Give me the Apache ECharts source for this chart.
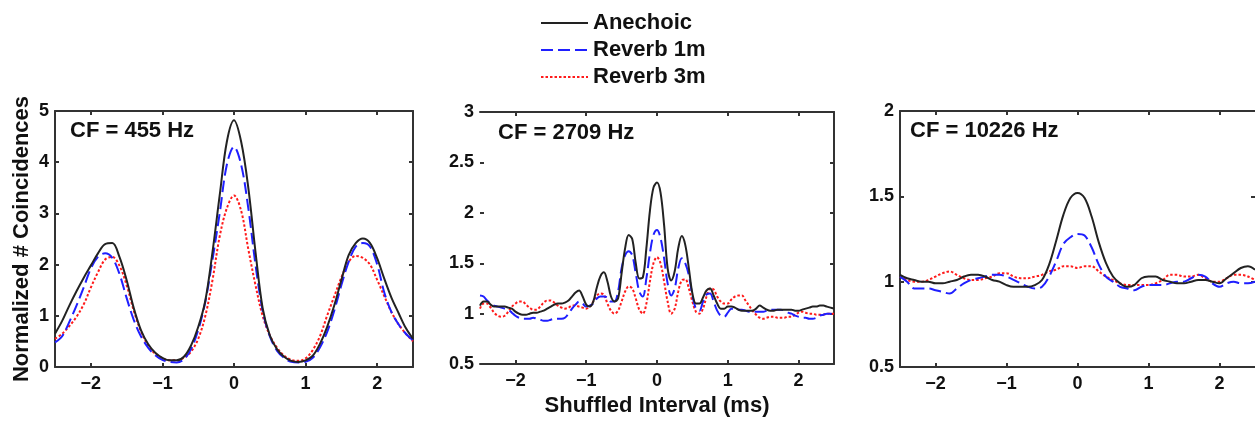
<!DOCTYPE html>
<html>
<head>
<meta charset="utf-8">
<script src="https://cdn.jsdelivr.net/npm/echarts@6/dist/echarts.min.js"></script>
<style>
html,body{margin:0;padding:0;background:#fff;}
#chart{width:1255px;height:422px;}
</style>
</head>
<body>
<div id="chart"></div>
<script>
// ---------- DATA ----------
const seriesNames = ['Anechoic', 'Reverb 1m', 'Reverb 3m'];
const cfLabels = ['CF = 455 Hz', 'CF = 2709 Hz', 'CF = 10226 Hz'];
const xTickValues = [-2, -1, 0, 1, 2];
const yRange1 = [0, 5, 1];
const yRange2 = [0.5, 3, 0.5];
const yRange3 = [0.5, 2, 0.5];
const xLabel = 'Shuffled Interval (ms)';
const yLabel = 'Normalized # Coincidences';

// Panel 1 (CF = 455 Hz)
const xs1 = [-2.5,-2.4,-2.3,-2.2,-2.1,-2.0,-1.9,-1.8,-1.7,-1.6,-1.5,-1.4,-1.3,-1.2,-1.1,-1.0,-0.9,-0.8,-0.7,-0.6,-0.5,-0.4,-0.3,-0.2,-0.1,0,
  0.1,0.2,0.3,0.4,0.5,0.6,0.7,0.8,0.9,1.0,1.1,1.2,1.3,1.4,1.5,1.6,1.7,1.8,1.9,2.0,2.1,2.2,2.3,2.4,2.5];
const p1Anechoic = [0.65,0.9,1.2,1.48,1.74,1.98,2.22,2.4,2.42,2.15,1.7,1.15,0.72,0.45,0.28,0.18,0.13,0.13,0.2,0.42,0.78,1.3,2.25,3.35,4.4,4.82,
  4.4,3.5,2.25,1.15,0.62,0.35,0.2,0.12,0.1,0.13,0.22,0.45,0.78,1.2,1.7,2.18,2.42,2.51,2.42,2.12,1.72,1.35,1.05,0.76,0.55];
const p1Reverb1 = [0.48,0.6,0.88,1.2,1.55,1.92,2.15,2.22,2.13,1.82,1.35,0.92,0.6,0.38,0.23,0.14,0.1,0.09,0.15,0.35,0.72,1.28,2.1,3.0,3.95,4.3,
  3.95,3.1,2.0,1.1,0.6,0.32,0.18,0.1,0.09,0.1,0.18,0.38,0.68,1.1,1.6,2.05,2.35,2.42,2.35,2.0,1.45,1.07,0.83,0.65,0.52];
const p1Reverb3 = [0.55,0.65,0.8,0.98,1.22,1.55,1.85,2.1,2.15,1.98,1.6,1.1,0.7,0.42,0.26,0.17,0.13,0.13,0.18,0.3,0.55,1.0,1.7,2.55,3.1,3.35,
  3.05,2.3,1.6,1.0,0.62,0.38,0.22,0.14,0.12,0.17,0.33,0.6,1.0,1.38,1.75,2.05,2.17,2.13,2.0,1.7,1.38,1.07,0.83,0.65,0.5];

// Panel 2 (CF = 2709 Hz)
const xs2 = [-2.5,-2.45,-2.4,-2.35,-2.3,-2.25,-2.2,-2.15,-2.1,-2.05,-2.0,-1.95,-1.9,-1.85,-1.8,-1.75,-1.7,-1.65,-1.6,-1.55,
  -1.5,-1.45,-1.4,-1.35,-1.3,-1.25,-1.2,-1.15,-1.1,-1.05,-1.0,-0.95,-0.9,-0.85,-0.8,-0.75,-0.7,-0.65,-0.6,-0.55,
  -0.5,-0.45,-0.4,-0.35,-0.3,-0.25,-0.2,-0.15,-0.1,-0.05,0,0.05,0.1,0.15,0.2,0.25,0.3,0.35,0.4,0.45,
  0.5,0.55,0.6,0.65,0.7,0.75,0.8,0.85,0.9,0.95,1.0,1.05,1.1,1.15,1.2,1.25,1.3,1.35,1.4,1.45,
  1.5,1.55,1.6,1.65,1.7,1.75,1.8,1.85,1.9,1.95,2.0,2.05,2.1,2.15,2.2,2.25,2.3,2.35,2.4,2.45,2.5];
const p2Anechoic = [1.08,1.12,1.12,1.09,1.07,1.07,1.07,1.07,1.06,1.05,1.02,1.0,0.99,0.99,1.0,1.01,1.01,1.02,1.03,1.05,
  1.07,1.09,1.1,1.1,1.11,1.13,1.17,1.21,1.23,1.17,1.09,1.07,1.12,1.26,1.37,1.41,1.32,1.17,1.12,1.15,
  1.4,1.65,1.78,1.74,1.5,1.35,1.36,1.65,2.02,2.25,2.3,2.2,1.88,1.45,1.33,1.42,1.65,1.77,1.68,1.45,
  1.2,1.1,1.1,1.16,1.23,1.25,1.18,1.1,1.05,1.05,1.07,1.07,1.06,1.04,1.03,1.03,1.03,1.03,1.05,1.08,
  1.06,1.04,1.03,1.03,1.04,1.04,1.04,1.04,1.04,1.03,1.03,1.04,1.05,1.06,1.07,1.07,1.08,1.08,1.07,1.06,1.05];
const p2Reverb1 = [1.18,1.17,1.13,1.1,1.08,1.07,1.06,1.05,1.04,1.01,0.98,0.96,0.95,0.95,0.95,0.96,0.95,0.94,0.93,0.93,
  0.94,0.95,0.95,0.95,0.96,1.0,1.05,1.09,1.12,1.1,1.07,1.08,1.1,1.15,1.17,1.17,1.16,1.12,1.12,1.22,
  1.45,1.58,1.62,1.58,1.4,1.22,1.17,1.35,1.6,1.78,1.83,1.75,1.55,1.3,1.18,1.25,1.45,1.55,1.5,1.38,
  1.18,1.05,1.03,1.12,1.19,1.2,1.12,1.03,0.98,0.97,1.01,1.05,1.05,1.04,1.04,1.03,1.02,1.02,1.02,1.02,
  1.02,1.03,1.04,1.04,1.04,1.04,1.03,1.01,1.0,0.98,0.97,0.96,0.96,0.95,0.95,0.96,0.98,0.99,1.0,1.0,1.0];
const p2Reverb3 = [1.05,1.1,1.1,1.06,1.01,0.98,0.97,0.98,1.02,1.07,1.1,1.12,1.12,1.09,1.06,1.04,1.04,1.07,1.11,1.13,
  1.13,1.11,1.08,1.06,1.05,1.06,1.08,1.08,1.07,1.06,1.05,1.07,1.12,1.18,1.2,1.19,1.1,1.03,1.0,1.03,
  1.12,1.22,1.27,1.25,1.15,1.04,1.0,1.1,1.32,1.5,1.56,1.5,1.32,1.12,1.0,1.05,1.22,1.33,1.34,1.25,
  1.12,1.02,1.0,1.05,1.17,1.25,1.24,1.17,1.12,1.1,1.1,1.14,1.17,1.18,1.18,1.13,1.08,1.03,0.99,0.96,
  0.95,0.96,0.97,0.97,0.96,0.96,0.96,0.97,0.97,0.99,1.01,1.02,1.01,1.0,1.0,0.99,0.99,0.99,1.0,1.0,1.0];

// Panel 3 (CF = 10226 Hz)
const xs3 = [-2.5,-2.4,-2.3,-2.2,-2.1,-2.0,-1.9,-1.8,-1.7,-1.6,-1.5,-1.4,-1.3,-1.2,-1.1,-1.0,-0.9,-0.8,-0.7,-0.6,-0.5,-0.4,-0.3,-0.2,-0.1,0,
  0.1,0.2,0.3,0.4,0.5,0.6,0.7,0.8,0.9,1.0,1.1,1.2,1.3,1.4,1.5,1.6,1.7,1.8,1.9,2.0,2.1,2.2,2.3,2.4,2.5];
const p3Anechoic = [1.04,1.02,1.01,1.0,1.0,0.99,0.99,1.0,1.01,1.03,1.04,1.04,1.03,1.01,1.0,0.98,0.97,0.97,0.97,0.98,1.01,1.1,1.24,1.39,1.49,1.52,
  1.49,1.38,1.23,1.11,1.03,0.99,0.97,0.98,1.02,1.03,1.03,1.01,1.0,0.99,0.99,1.0,1.01,1.01,1.0,0.99,1.02,1.05,1.08,1.09,1.07];
const p3Reverb1 = [1.03,1.0,0.96,0.96,0.96,0.95,0.94,0.93,0.96,0.99,1.01,1.02,1.03,1.04,1.04,1.03,1.01,0.99,0.97,0.96,0.97,1.03,1.12,1.22,1.26,1.28,
  1.27,1.2,1.1,1.03,1.0,0.97,0.96,0.95,0.97,0.98,0.98,0.98,0.99,1.0,1.0,1.02,1.04,1.03,0.99,0.97,0.99,1.0,0.99,0.99,1.0];
const p3Reverb3 = [1.03,1.01,1.0,1.0,1.01,1.03,1.05,1.06,1.04,1.02,1.01,1.01,1.02,1.03,1.05,1.05,1.03,1.02,1.02,1.03,1.04,1.06,1.07,1.09,1.09,1.08,
  1.09,1.09,1.06,1.03,1.01,0.99,0.98,0.98,0.98,0.98,0.99,1.01,1.04,1.04,1.03,1.03,1.04,1.02,1.0,1.0,1.02,1.04,1.04,1.03,1.01];

// ---------- CHART ----------
const FONT = '"Liberation Sans", Arial, Helvetica, sans-serif';
const AXC = '#333333';
const colors = ['#222222', '#1f1fff', '#ff1a1a'];
const dashes = ['solid', [12, 5], [2.5, 2]];

const grids = [
  {left: 55, top: 111, width: 358, height: 256},
  {left: 480, top: 112, width: 354, height: 256},
  {left: 900, top: 111, width: 357, height: 256}
];
const yRanges = [yRange1, yRange2, yRange3];
const panels = [
  {xs: xs1, ys: [p1Anechoic, p1Reverb1, p1Reverb3]},
  {xs: xs2, ys: [p2Anechoic, p2Reverb1, p2Reverb3]},
  {xs: xs3, ys: [p3Anechoic, p3Reverb1, p3Reverb3]}
];

const fmtMinus = v => (v < 0 ? '\u2212' + Math.abs(v) : String(v));
const tickLabelStyle = {fontFamily: FONT, fontWeight: 'bold', fontSize: 18, color: '#111'};

const xAxes = [], yAxes = [], series = [];
grids.forEach((g, i) => {
  xAxes.push({
    type: 'value', gridIndex: i, position: 'bottom', min: -2.5, max: 2.5,
    name: i === 1 ? xLabel : '', nameLocation: 'middle', nameGap: 26,
    nameTextStyle: {fontFamily: FONT, fontWeight: 'bold', fontSize: 22, color: '#111'},
    axisLine: {show: true, lineStyle: {color: AXC, width: 2}},
    axisTick: {show: true, inside: true, length: 4, customValues: xTickValues, lineStyle: {color: AXC, width: 2}},
    axisLabel: Object.assign({show: true, margin: 8, customValues: xTickValues, formatter: fmtMinus}, tickLabelStyle),
    splitLine: {show: false}
  });
  xAxes.push({
    type: 'value', gridIndex: i, position: 'top', min: -2.5, max: 2.5,
    axisLine: {show: true, onZero: false, lineStyle: {color: AXC, width: 2}},
    axisTick: {show: true, inside: true, length: 4, customValues: xTickValues, lineStyle: {color: AXC, width: 2}},
    axisLabel: {show: false},
    splitLine: {show: false}
  });
  const yr = yRanges[i];
  yAxes.push({
    type: 'value', gridIndex: i, position: 'left', min: yr[0], max: yr[1], interval: yr[2],
    name: i === 0 ? yLabel : '', nameLocation: 'middle', nameGap: 22, nameRotate: 90,
    nameTextStyle: {fontFamily: FONT, fontWeight: 'bold', fontSize: 22, color: '#111'},
    axisLine: {show: i !== 1, onZero: false, lineStyle: {color: AXC, width: 2}},
    axisTick: {show: true, inside: true, length: 4, lineStyle: {color: AXC, width: 2}},
    axisLabel: Object.assign({show: true, margin: 6}, tickLabelStyle),
    splitLine: {show: false}
  });
  yAxes.push({
    type: 'value', gridIndex: i, position: 'right', min: yr[0], max: yr[1], interval: yr[2],
    axisLine: {show: i !== 2, onZero: false, lineStyle: {color: AXC, width: 2}},
    axisTick: {show: true, inside: true, length: 4, lineStyle: {color: AXC, width: 2}},
    axisLabel: {show: false},
    splitLine: {show: false}
  });
  const p = panels[i];
  p.ys.forEach((arr, k) => {
    series.push({
      name: seriesNames[k], type: 'line', xAxisIndex: i * 2, yAxisIndex: i * 2,
      data: p.xs.map((x, j) => [x, arr[j]]),
      symbol: 'none', showSymbol: false, smooth: 0.35, clip: true,
      lineStyle: {color: colors[k], width: 2, type: dashes[k]},
      itemStyle: {color: colors[k]},
      z: 10 - k, animation: false
    });
  });
});

const cfPos = [[70, 131], [498, 133], [910, 131]];
const graphics = cfLabels.map((t, i) => ({
  type: 'text', x: cfPos[i][0], y: cfPos[i][1], z: 50,
  style: {text: t, font: 'bold 22px ' + FONT, fill: '#111', verticalAlign: 'middle', align: 'left'}
}));

const chart = echarts.init(document.getElementById('chart'), null, {renderer: 'canvas'});
chart.setOption({
  animation: false,
  backgroundColor: '#ffffff',
  grid: grids.map(g => Object.assign({containLabel: false}, g)),
  xAxis: xAxes,
  yAxis: yAxes,
  legend: {
    data: seriesNames, orient: 'vertical', left: 535, top: 7,
    itemWidth: 47, itemHeight: 14, itemGap: 5,
    itemStyle: {opacity: 0},
    textStyle: {fontFamily: FONT, fontWeight: 'bold', fontSize: 22, color: '#111'},
    selectedMode: false
  },
  graphic: graphics,
  series: series
});
</script>
</body>
</html>
